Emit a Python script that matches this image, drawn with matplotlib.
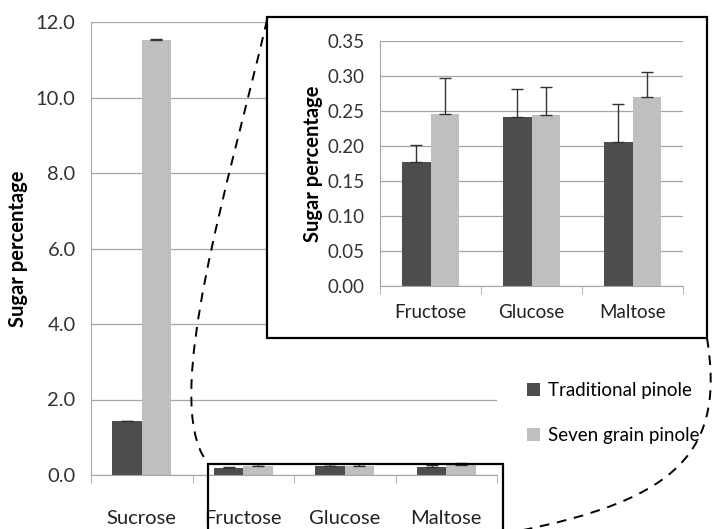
import matplotlib.pyplot as plt
import numpy as np
from matplotlib.patches import Rectangle, PathPatch
from matplotlib.path import Path

plt.rcParams['font.family'] = ['Lato', 'DejaVu Sans']

# main chart data
sugars = ['Sucrose', 'Fructose', 'Glucose', 'Maltose']
traditional = [1.43, 0.177, 0.241, 0.206]
seven_grain = [11.52, 0.246, 0.244, 0.270]
trad_err = [0.01, 0.025, 0.040, 0.054]
seven_err = [0.03, 0.051, 0.041, 0.036]

# inset data (no sucrose)
inset_sugars = ['Fructose', 'Glucose', 'Maltose']
inset_trad = traditional[1:]
inset_seven = seven_grain[1:]
inset_trad_err = trad_err[1:]
inset_seven_err = seven_err[1:]

dark = '#4d4d4d'
light = '#bfbfbf'
grid_c = '#a6a6a6'

W, H = 718, 529
fig = plt.figure(figsize=(W / 100, H / 100), dpi=100)


def fbox(x0, y0, x1, y1):
    # pixel box (top-left origin) -> figure fraction [left, bottom, width, height]
    return [x0 / W, 1 - y1 / H, (x1 - x0) / W, (y1 - y0) / H]


def fpt(x, y):
    return (x / W, 1 - y / H)


def style_axes(ax, n, fs, xpad):
    ax.set_xlim(-0.5, n - 0.5)
    for s in ['top', 'right']:
        ax.spines[s].set_visible(False)
    ax.spines['left'].set_color(grid_c)
    ax.spines['bottom'].set_color(grid_c)
    ax.yaxis.grid(True, color=grid_c, lw=0.9)
    ax.set_axisbelow(True)
    ax.tick_params(axis='y', length=0, pad=11, labelsize=fs, colors='#333333')
    ax.tick_params(axis='x', which='major', length=0, pad=xpad, labelsize=fs, colors='#222222')
    ax.set_xticks(np.arange(-0.5, n, 1.0), minor=True)
    ax.tick_params(axis='x', which='minor', length=6, color=grid_c, direction='out')


bw = 0.29
ek = dict(ecolor='#333333', elinewidth=1.0, capsize=4, capthick=1.0)

# main axes
ax = fig.add_axes(fbox(91, 22, 497, 475))
x = np.arange(len(sugars))
ax.bar(x - bw / 2, traditional, bw, color=dark, label='Traditional pinole',
       yerr=[np.zeros(len(x)), trad_err], error_kw=ek)
ax.bar(x + bw / 2, seven_grain, bw, color=light, label='Seven grain pinole',
       yerr=[np.zeros(len(x)), seven_err], error_kw=ek)
ax.set_ylim(0, 12)
ax.set_yticks(np.arange(0, 12.1, 2))
ax.set_yticklabels(['%.1f' % v for v in np.arange(0, 12.1, 2)])
ax.set_xticks(x)
ax.set_xticklabels(sugars)
style_axes(ax, len(sugars), 14.5, 25)
ax.set_ylabel('Sugar percentage', fontsize=14.5, fontweight='bold', labelpad=6)

# legend
handles, labels = ax.get_legend_handles_labels()
leg = fig.legend(handles, labels, loc='upper left', bbox_to_anchor=fpt(510, 365),
                 frameon=False, fontsize=13.5, handlelength=0.7, handleheight=0.7,
                 handletextpad=0.4, labelspacing=1.5)

# inset frame
frame = Rectangle(fpt(267, 338), (707 - 267) / W, (338 - 17) / H, transform=fig.transFigure,
                  facecolor='white', edgecolor='black', lw=1.6, zorder=2)
fig.patches.append(frame)

# bottom highlight box
box = Rectangle(fpt(208, 540), (503 - 208) / W, (540 - 464) / H, transform=fig.transFigure,
                facecolor='none', edgecolor='black', lw=1.6, zorder=2, clip_on=False)
fig.patches.append(box)

# dashed connectors
left_curve = Path([fpt(267, 20), fpt(230, 180), fpt(160, 400), fpt(207, 462)],
                  [Path.MOVETO, Path.CURVE4, Path.CURVE4, Path.CURVE4])
right_curve = Path([fpt(707, 338), fpt(725, 450), fpt(680, 500), fpt(513, 532)],
                   [Path.MOVETO, Path.CURVE4, Path.CURVE4, Path.CURVE4])
for p in [left_curve, right_curve]:
    fig.patches.append(PathPatch(p, transform=fig.transFigure, facecolor='none',
                                 edgecolor='black', lw=1.4, ls=(0, (5, 4)), zorder=3))

# inset axes
ax2 = fig.add_axes(fbox(380, 41, 683, 286), zorder=5)
xi = np.arange(len(inset_sugars))
ax2.bar(xi - 0.28 / 2, inset_trad, 0.28, color=dark,
        yerr=[np.zeros(len(xi)), inset_trad_err], error_kw=ek)
ax2.bar(xi + 0.28 / 2, inset_seven, 0.28, color=light,
        yerr=[np.zeros(len(xi)), inset_seven_err], error_kw=ek)
ax2.set_ylim(0, 0.35)
ax2.set_yticks(np.arange(0, 0.351, 0.05))
ax2.set_yticklabels(['%.2f' % v for v in np.arange(0, 0.351, 0.05)])
ax2.set_xticks(xi)
ax2.set_xticklabels(inset_sugars)
style_axes(ax2, len(inset_sugars), 13.5, 13)
ax2.patch.set_alpha(0)
ax2.set_ylabel('Sugar percentage', fontsize=14.5, fontweight='bold', labelpad=3)

fig.savefig('out.png', dpi=100)
